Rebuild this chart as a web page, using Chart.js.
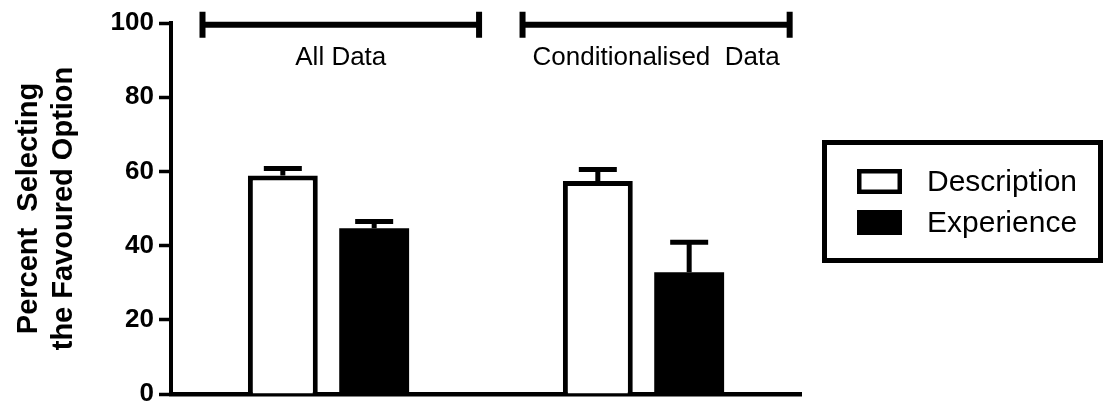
<!DOCTYPE html>
<html>
<head>
<meta charset="utf-8">
<title>Percent selecting the favoured option</title>
<script src="https://cdn.jsdelivr.net/npm/chart.js@4.4.1/dist/chart.umd.min.js"></script>
<style>
  body { margin: 0; background: #fff; }
  #wrap { width: 1104px; height: 405px; position: relative; }
</style>
</head>
<body>
<div id="wrap"><canvas id="chart"></canvas></div>
<script>
// Values
const groups = ["All Data", "Conditionalised Data"];
const descValues = [58.9, 57.4];
const descErrors = [1.9, 3.1];
const expValues = [44.7, 32.8];
const expErrors = [1.8, 8.1];

// Brackets above the groups (category index units) and their labels
const bracketLabels = ["All Data", "Conditionalised  Data"];
const bracketFrom = [-0.40, 0.616];
const bracketTo = [0.478, 1.464];
const bracketLevel = 99.5;

const yTicks = [0, 20, 40, 60, 80, 100];

const FONT = "'Liberation Sans', Arial, Helvetica, sans-serif";

// Upper error bars only
const errorBars = {
  id: "errorBars",
  afterDatasetsDraw(chart) {
    const ctx = chart.ctx;
    const y = chart.scales.y;
    ctx.save();
    ctx.strokeStyle = "#000";
    ctx.lineWidth = 5;
    ctx.lineCap = "butt";
    chart.data.datasets.forEach((ds, i) => {
      const meta = chart.getDatasetMeta(i);
      meta.data.forEach((bar, j) => {
        const top = y.getPixelForValue(ds.data[j]);
        const end = y.getPixelForValue(ds.data[j] + ds.errors[j]);
        ctx.beginPath();
        ctx.moveTo(bar.x, top);
        ctx.lineTo(bar.x, end);
        ctx.moveTo(bar.x - 19, end);
        ctx.lineTo(bar.x + 19, end);
        ctx.stroke();
      });
    });
    ctx.restore();
  },
};

// Group brackets at the top
const brackets = {
  id: "brackets",
  afterDraw(chart) {
    const ctx = chart.ctx;
    const x = chart.scales.x;
    const y = chart.scales.y;
    const yy = y.getPixelForValue(bracketLevel);
    ctx.save();
    ctx.strokeStyle = "#000";
    ctx.fillStyle = "#000";
    ctx.font = "26px " + FONT;
    ctx.textAlign = "center";
    ctx.textBaseline = "alphabetic";
    bracketLabels.forEach((label, i) => {
      const x1 = x.getPixelForValue(bracketFrom[i]);
      const x2 = x.getPixelForValue(bracketTo[i]);
      ctx.lineWidth = 6;
      ctx.beginPath();
      ctx.moveTo(x1, yy);
      ctx.lineTo(x2, yy);
      ctx.stroke();
      ctx.beginPath();
      ctx.moveTo(x1, yy - 13);
      ctx.lineTo(x1, yy + 13);
      ctx.moveTo(x2, yy - 13);
      ctx.lineTo(x2, yy + 13);
      ctx.stroke();
      ctx.fillText(label, (x1 + x2) / 2, yy + 40);
    });
    ctx.restore();
  },
};

// Boxed legend on the right
const boxLegend = {
  id: "boxLegend",
  afterDraw(chart) {
    const ctx = chart.ctx;
    ctx.save();
    ctx.strokeStyle = "#000";
    ctx.lineWidth = 5;
    ctx.strokeRect(824.5, 142.5, 276, 118);
    ctx.font = "30px " + FONT;
    ctx.textAlign = "left";
    ctx.textBaseline = "alphabetic";
    chart.data.datasets.forEach((ds, i) => {
      const top = 169 + i * 41;
      if (ds.backgroundColor === "#000") {
        ctx.fillStyle = "#000";
        ctx.fillRect(857, top, 45, 25);
      } else {
        ctx.lineWidth = 4.5;
        ctx.strokeRect(859.25, top + 2.25, 40.5, 20.5);
      }
      ctx.fillStyle = "#000";
      ctx.fillText(ds.label, 927, top + 22);
    });
    ctx.restore();
  },
};

const chart = new Chart(document.getElementById("chart"), {
  type: "bar",
  data: {
    labels: groups,
    datasets: [
      {
        label: "Description",
        data: descValues,
        errors: descErrors,
        backgroundColor: "#fff",
        borderColor: "#000",
        borderWidth: 5,
      },
      {
        label: "Experience",
        data: expValues,
        errors: expErrors,
        backgroundColor: "#000",
        borderColor: "#000",
        borderWidth: 0,
      },
    ],
  },
  options: {
    responsive: true,
    maintainAspectRatio: false,
    animation: false,
    categoryPercentage: 0.58,
    barPercentage: 0.765,
    layout: {
      padding: { top: 23, right: 303, bottom: 0, left: 0 },
    },
    plugins: {
      legend: { display: false },
      tooltip: { enabled: false },
    },
    scales: {
      x: {
        ticks: { display: false },
        grid: { display: false },
        border: { display: true, color: "#000", width: 4.5 },
        afterFit: (scale) => {
          scale.height = 11;
        },
      },
      y: {
        min: 0,
        max: 100,
        afterBuildTicks: (scale) => {
          scale.ticks = yTicks.map((v) => ({ value: v }));
        },
        afterFit: (scale) => {
          scale.width = 171;
        },
        ticks: {
          color: "#000",
          padding: 5,
          font: { family: FONT, size: 26, weight: "bold", lineHeight: 0.4 },
        },
        grid: {
          display: true,
          drawOnChartArea: false,
          drawTicks: true,
          tickLength: 12,
          tickWidth: 3.5,
          tickColor: "#000",
        },
        border: { display: true, color: "#000", width: 4 },
        title: {
          display: true,
          text: ["Percent  Selecting", "the Favoured Option"],
          color: "#000",
          padding: { top: 12, bottom: 0 },
          font: { family: FONT, size: 29, weight: "bold", lineHeight: 1.2 },
        },
      },
    },
  },
  plugins: [errorBars, brackets, boxLegend],
});
</script>
</body>
</html>
